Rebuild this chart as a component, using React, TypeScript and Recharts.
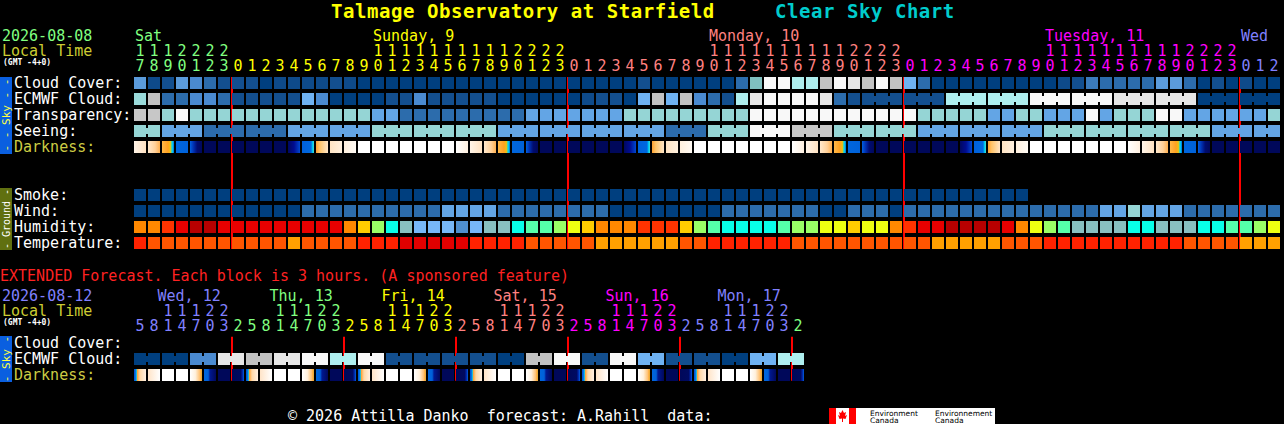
import { ScatterChart, Scatter, XAxis, YAxis, ReferenceLine, Customized } from 'recharts';

const FONT = '"DejaVu Sans Mono", "Liberation Mono", monospace';

// ---- labels ----
const TITLE = 'Talmage Observatory at Starfield';
const SUBTITLE = 'Clear Sky Chart';
const MAIN_DATE = '2026-08-08';
const EXT_DATE = '2026-08-12';
const TZ = '(GMT -4+0)';
const EXT_NOTE = 'EXTENDED Forecast. Each block is 3 hours. (A sponsored feature)';
const FOOTER = '\u00A9 2026 Attilla Danko  forecast: A.Rahill  data:';

const MAIN_ROWS = ['Cloud Cover:', 'ECMWF Cloud:', 'Transparency:', 'Seeing:', 'Darkness:', '', '', 'Smoke:', 'Wind:', 'Humidity:', 'Temperature:'];
const EXT_ROWS = ['Cloud Cover:', 'ECMWF Cloud:', 'Darkness:'];

const MAIN_DAY_NAMES = ['Sat', 'Sunday, 9', 'Monday, 10', 'Tuesday, 11', 'Wed'];
const EXT_DAY_NAMES = ['Wed, 12', 'Thu, 13', 'Fri, 14', 'Sat, 15', 'Sun, 16', 'Mon, 17', ''];

// ---- hours (local time) ----
const MAIN_HOURS = [
  17, 18, 19, 20, 21, 22, 23,
  0, 1, 2, 3, 4, 5, 6, 7, 8, 9, 10, 11, 12, 13, 14, 15, 16, 17, 18, 19, 20, 21, 22, 23,
  0, 1, 2, 3, 4, 5, 6, 7, 8, 9, 10, 11, 12, 13, 14, 15, 16, 17, 18, 19, 20, 21, 22, 23,
  0, 1, 2, 3, 4, 5, 6, 7, 8, 9, 10, 11, 12, 13, 14, 15, 16, 17, 18, 19, 20, 21, 22, 23,
  0, 1, 2,
];
const EXT_HOURS = [
  5, 8, 11, 14, 17, 20, 23,
  2, 5, 8, 11, 14, 17, 20, 23,
  2, 5, 8, 11, 14, 17, 20, 23,
  2, 5, 8, 11, 14, 17, 20, 23,
  2, 5, 8, 11, 14, 17, 20, 23,
  2, 5, 8, 11, 14, 17, 20, 23,
  2,
];

// ---- hourly forecast (palette indices) ----
const CLOUD_COVER = [
  6, 1, 2, 6, 5, 3, 2,
  2, 2, 0, 1, 1, 1, 1, 2, 1, 0, 0, 0, 0, 0, 0, 0, 0, 0, 0, 0, 0, 0, 0, 0,
  0, 0, 0, 0, 0, 2, 0, 0, 0, 0, 0, 0, 3, 8, 13, 13, 10, 10, 11, 13, 12, 11, 13, 11,
  7, 3, 0, 0, 0, 0, 0, 0, 0, 0, 0, 1, 2, 4, 3, 3, 3, 3, 6, 6, 3, 0, 2, 0,
  1, 0, 0,
];
const ECMWF_CLOUD = [
  9, 11, 3, 3, 5, 5, 3,
  2, 2, 2, 2, 2, 7, 5, 0, 0, 0, 0, 2, 2, 5, 2, 2, 2, 2, 2, 0, 0, 0, 0, 0,
  0, 1, 2, 2, 0, 7, 11, 7, 11, 5, 3, 2, 10, 12, 13, 13, 13, 13, 12, 3, 2, 2, 2, 2,
  2, 2, 2, 10, 10, 10, 10, 10, 10, 13, 13, 13, 13, 13, 13, 12, 12, 12, 12, 12, 12, 0, 0, 0,
  0, 0, 0,
];
const TRANSPARENCY = [
  4, 4, 3, 5, 3, 3, 3,
  3, 3, 3, 3, 3, 3, 3, 3, 3, 3, 2, 2, 1, 1, 1, 1, 1, 1, 1, 1, 1, 2, 2, 2,
  2, 2, 2, 2, 3, 3, 3, 3, 3, 3, 3, 3, 3, 5, 5, 5, 5, 5, 5, 5, 5, 5, 5, 5,
  5, 3, 3, 3, 3, 3, 2, 2, 3, 3, 2, 2, 2, 5, 2, 3, 3, 3, 5, 5, 2, 2, 2, 2,
  2, 2, 3,
];
const SEEING = [
  3, 3, 2, 2, 2, 1, 1,
  1, 1, 1, 1, 2, 2, 2, 2, 2, 2, 3, 3, 3, 3, 3, 3, 3, 3, 3, 2, 2, 2, 2, 2,
  2, 2, 2, 2, 2, 2, 2, 1, 1, 1, 3, 3, 3, 5, 5, 5, 4, 4, 4, 3, 3, 3, 3, 3,
  3, 2, 2, 2, 2, 2, 2, 2, 2, 2, 3, 3, 3, 3, 3, 3, 3, 3, 3, 3, 3, 3, 2, 2,
  2, 2, 2,
];
const DARKNESS = [
  'c', 'C', 'S', 'B', 'b', 'N', 'N',
  'N', 'N', 'N', 'N', 'n', 'R', 'O', 'm', 'l', 'W', 'W', 'W', 'W', 'W', 'W', 'W', 'a', 'c', 'C', 'S', 'B', 'b', 'N', 'N',
  'N', 'N', 'N', 'N', 'n', 'R', 'O', 'm', 'l', 'W', 'W', 'W', 'W', 'W', 'W', 'W', 'a', 'c', 'C', 'S', 'B', 'b', 'N', 'N',
  'N', 'N', 'N', 'N', 'n', 'R', 'O', 'm', 'l', 'W', 'W', 'W', 'W', 'W', 'W', 'W', 'a', 'c', 'C', 'S', 'B', 'b', 'N', 'N',
  'N', 'N', 'N',
];
const SMOKE = [
  0, 0, 0, 0, 0, 0, 0,
  0, 0, 0, 0, 0, 0, 0, 0, 0, 0, 0, 0, 0, 0, 0, 0, 0, 0, 0, 0, 0, 0, 0, 0,
  0, 0, 0, 0, 0, 0, 0, 0, 0, 0, 0, 0, 0, 0, 0, 0, 0, 0, 0, 0, 0, 0, 0, 0,
  0, 0, 0, 0, 0, 0, 0, 0, 0,
];
const WIND = [
  0, 0, 0, 0, 0, 0, 0,
  0, 0, 0, 0, 0, 1, 1, 1, 1, 1, 1, 1, 1, 1, 1, 2, 2, 2, 2, 1, 1, 1, 1, 1,
  1, 1, 1, 0, 0, 0, 0, 0, 0, 0, 0, 1, 1, 1, 1, 1, 1, 1, 0, 0, 1, 1, 1, 0,
  1, 1, 1, 1, 1, 1, 1, 1, 1, 1, 1, 1, 1, 1, 2, 2, 3, 2, 2, 2, 1, 1, 1, 1,
  1, 1, 1,
];
const HUMIDITY = [
  8, 8, 9, 10, 11, 11, 10,
  10, 10, 10, 10, 10, 10, 10, 10, 8, 7, 5, 3, 2, 1, 1, 1, 0, 1, 2, 2, 3, 4, 4, 5,
  6, 7, 8, 8, 8, 9, 9, 9, 7, 5, 4, 3, 3, 3, 3, 4, 5, 5, 6, 6, 7, 6, 6, 8,
  9, 10, 10, 11, 11, 11, 11, 10, 8, 6, 5, 4, 2, 2, 2, 2, 3, 3, 2, 2, 2, 3, 3, 4,
  4, 5, 6,
];
const TEMPERATURE = [
  2, 1, 1, 1, 1, 1, 1,
  1, 1, 1, 1, 0, 1, 1, 1, 1, 2, 2, 2, 3, 3, 3, 3, 3, 2, 2, 2, 2, 1, 1, 1,
  1, 1, 0, 0, 0, 0, 0, 0, 1, 1, 2, 2, 2, 2, 2, 2, 1, 1, 1, 1, 1, 1, 1, 1,
  1, 1, 0, 0, 0, 0, 0, 1, 1, 1, 2, 2, 2, 2, 2, 2, 2, 2, 2, 2, 1, 1, 1, 1,
  0, 0, 0,
];

// ---- extended (3 h blocks) ----
const EXT_ECMWF = [
  0, 0, 0, 0, 5, 5, 12, 12, 11, 11, 12, 12, 13, 13, 10, 10, 13, 13, 2, 2, 2, 2, 2, 2,
  2, 2, 0, 0, 11, 11, 13, 13, 2, 2, 13, 13, 7, 7, 2, 2, 2, 2, 0, 0, 7, 7, 10, 10,
];
const EXT_DARKNESS = [
  'X', 'M', 'W', 'W', 'E', 'F', 'N',
  'P', 'X', 'M', 'W', 'W', 'E', 'F', 'N',
  'P', 'X', 'M', 'W', 'W', 'E', 'F', 'N',
  'P', 'X', 'M', 'W', 'W', 'E', 'F', 'N',
  'P', 'X', 'M', 'W', 'W', 'E', 'F', 'N',
  'P', 'X', 'M', 'W', 'W', 'E', 'F', 'N',
  'P',
];

// ---- palettes ----
const CLOUD_COLORS = ['#003F7F', '#0E4A8A', '#134F8F', '#2C6CAC', '#3B7BBB', '#4A8AD0', '#5B9BDB', '#6FB2F2', '#80C0C0', '#9ADADA', '#AEEEEE', '#C2C2C2', '#E6E6E6', '#F8F8F8'];
const SKY_COLORS = ['#003F7F', '#2C6CAC', '#63A5E5', '#95D5D5', '#C7C7C7', '#F8F8F8'];
const HUMIDITY_COLORS = ['#4F8FCF', '#77B7F7', '#88C0C0', '#08FFE8', '#55FFAA', '#99FF66', '#EEFF11', '#FFCC00', '#FF8800', '#FF3300', '#E80000', '#B80000'];
const TEMP_COLORS = ['#FFA000', '#FF5500', '#FF2200', '#E00000'];
const DAY_COLORS = ['#80FF80', '#FFFF00', '#FF8080', '#FF00FF', '#8080FF'];

type Stops = [number, string][];
const DARK_STYLES: Record<string, Stops> = {
  W: [[0, '#FFFFFF'], [1, '#FFFFFF']],
  a: [[0, '#FFFFFF'], [1, '#FFF0E0']],
  c: [[0, '#FFF4E8'], [1, '#FFE2C2']],
  C: [[0, '#FFE8CC'], [0.6, '#FFD098'], [1, '#FFB050']],
  S: [[0, '#FFB848'], [0.5, '#FFA020'], [0.7, '#EEC010'], [0.8, '#40D0B0'], [0.88, '#00C8F0'], [1, '#0068E0']],
  B: [[0, '#0066DD'], [1, '#0062DA']],
  b: [[0, '#0060E0'], [0.3, '#0030B0'], [0.6, '#000C70'], [1, '#00085C']],
  N: [[0, '#00085A'], [1, '#00085A']],
  n: [[0, '#000860'], [0.5, '#000C90'], [1, '#0048D0']],
  R: [[0, '#0060DA'], [0.75, '#0068E0'], [0.88, '#00C8F0'], [1, '#40E0D0']],
  O: [[0, '#FFA030'], [0.3, '#FFC468'], [1, '#FFE6C8']],
  m: [[0, '#FFE4C4'], [1, '#FFF0DE']],
  l: [[0, '#FFF0DE'], [1, '#FFFAF4']],
  X: [[0, '#0050D0'], [0.12, '#0070E8'], [0.2, '#00C0F0'], [0.26, '#FFA030'], [0.5, '#FFD8A8'], [1, '#FFF0E2']],
  M: [[0, '#FFE4C8'], [1, '#FFFFFF']],
  E: [[0, '#FFFFFF'], [0.45, '#FFF0DC'], [0.82, '#FFC070'], [0.92, '#FFA830'], [1, '#D8B040']],
  F: [[0, '#0066DD'], [0.35, '#0060D8'], [0.5, '#001890'], [1, '#00085C']],
  P: [[0, '#00085A'], [0.72, '#000A60'], [0.85, '#0020A0'], [1, '#0060E0']],
};

// ---- helpers ----
function dayIndex(hours: number[]) {
  let d = 0;
  return hours.map((h, i) => {
    if (i > 0 && h < hours[i - 1]) d += 1;
    return d;
  });
}

function labelColumns(hours: number[], days: number[], labelHour: number) {
  const cols: Record<number, number> = {};
  hours.forEach((h, i) => {
    const d = days[i];
    if (cols[d] === undefined) cols[d] = i;
    if (h === labelHour) cols[d] = i;
  });
  return cols;
}

function midnights(hours: number[]) {
  return hours.map((h, i) => (i > 0 && h < hours[i - 1] ? i : -1)).filter((i) => i >= 0);
}

function blocks(values: number[], row: number, palette: string[], link?: (i: number) => boolean) {
  return values.map((v, i) => ({
    col: i + 0.5,
    row: row + 0.5,
    fill: palette[v],
    link: link ? i < values.length - 1 && link(i) : false,
  }));
}

function darkBlocks(codes: string[], row: number, id: string) {
  return codes.map((c, i) => ({ col: i + 0.5, row: row + 0.5, grad: DARK_STYLES[c], gid: `${id}-${i}` }));
}

function Block(props: any) {
  const { cx, cy, payload } = props;
  if (cx == null || cy == null || !payload) return <g />;
  const x = cx - 7;
  const y = cy - 7;
  if (payload.grad) {
    return (
      <g>
        <defs>
          <linearGradient id={payload.gid} x1="0" y1="0" x2="1" y2="0">
            {payload.grad.map(([o, c]: [number, string], k: number) => (
              <stop key={k} offset={o} stopColor={c} />
            ))}
          </linearGradient>
        </defs>
        <rect x={x} y={y} width={12} height={12} fill={`url(#${payload.gid})`} />
      </g>
    );
  }
  return (
    <g>
      <rect x={x} y={y} width={12} height={12} fill={payload.fill} />
      {payload.link && <rect x={x + 11} y={y + 3} width={4} height={6} fill={payload.fill} />}
    </g>
  );
}

function HourTick(props: any) {
  const { x, payload, hours, days, labels, names, colorOffset, base, labelDx } = props;
  const i = Math.floor(payload.value);
  const h = hours[i];
  const d = days[i];
  const fill = DAY_COLORS[(d + colorOffset) % DAY_COLORS.length];
  return (
    <g fontFamily={FONT} fontSize={15} fill={fill}>
      {labels[d] === i && names[d] ? (
        <text x={x + labelDx} y={base[0]} fill={fill}>{names[d]}</text>
      ) : null}
      {h >= 10 ? (
        <text x={x - 1} y={base[1]} textAnchor="middle" fill={fill}>{Math.floor(h / 10)}</text>
      ) : null}
      <text x={x - 1} y={base[2]} textAnchor="middle" fill={fill}>{h % 10}</text>
    </g>
  );
}

function RowTick(props: any) {
  const { y, payload, rows } = props;
  const label = rows[Math.floor(payload.value)];
  return (
    <text x={14} y={y + 4} fontFamily={FONT} fontSize={15} fill={label === 'Darkness:' ? '#CCCC44' : '#FFFFFF'}>
      {label}
    </text>
  );
}

function MainTexts() {
  return (
    <g fontFamily={FONT}>
      <text x={331} y={17.7} fontSize={19} letterSpacing={0.55} fontWeight="bold" fill="#FFFF00" fontFamily={FONT}>{TITLE}</text>
      <text x={775} y={17.7} fontSize={19} letterSpacing={0.55} fontWeight="bold" fill="#00CCCC" fontFamily={FONT}>{SUBTITLE}</text>
      <text x={2} y={41} fontSize={15} fill={DAY_COLORS[0]} fontFamily={FONT}>{MAIN_DATE}</text>
      <text x={2} y={56} fontSize={15} fill="#CCCC33" fontFamily={FONT}>Local Time</text>
      <text x={3} y={65} fontSize={8} fontWeight="bold" fill="#FFFFFF" fontFamily={FONT}>{TZ}</text>
      <rect x={0} y={77} width={12} height={77} fill="#0A5FE0" />
      <text transform="translate(9.5,115) rotate(-90)" textAnchor="middle" fontSize={11} fill="#FFFF44" fontFamily={FONT}>- - Sky - -</text>
      <rect x={0} y={188} width={12} height={62} fill="#607010" />
      <text transform="translate(9.5,219) rotate(-90)" textAnchor="middle" fontSize={10} fill="#FFFFFF" fontFamily={FONT}>- Ground -</text>
    </g>
  );
}

function ExtTexts() {
  return (
    <g fontFamily={FONT}>
      <text x={0} y={19} fontSize={15} fill="#FF2222" fontFamily={FONT}>{EXT_NOTE}</text>
      <text x={2} y={39} fontSize={15} fill={DAY_COLORS[4]} fontFamily={FONT}>{EXT_DATE}</text>
      <text x={2} y={54} fontSize={15} fill="#CCCC33" fontFamily={FONT}>Local Time</text>
      <text x={3} y={63} fontSize={8} fontWeight="bold" fill="#FFFFFF" fontFamily={FONT}>{TZ}</text>
      <rect x={0} y={74} width={12} height={46} fill="#0A5FE0" />
      <text transform="translate(9.5,97) rotate(-90)" textAnchor="middle" fontSize={11} fill="#FFFF44" fontFamily={FONT}>- Sky -</text>
      <text x={288} y={159} fontSize={15} fill="#FFFFFF" fontFamily={FONT} style={{ whiteSpace: 'pre' }}>{FOOTER}</text>
      <rect x={829} y={146} width={166} height={16} fill="#FFFFFF" />
      <rect x={829} y={146} width={7} height={16} fill="#FF0000" />
      <rect x={849} y={146} width={7} height={16} fill="#FF0000" />
      <path d="M842.5,148 L844,151 L846,150 L845,154 L847,153 L845.5,157 L843,156.5 L843,160 L842,160 L842,156.5 L839.5,157 L838,153 L840,154 L839,150 L841,151 Z" fill="#FF0000" />
      <g fontFamily='"DejaVu Sans", sans-serif' fontSize={7.5} fill="#000000">
        <text x={870} y={153.5}>Environment</text>
        <text x={870} y={161}>Canada</text>
        <text x={935} y={153.5}>Environnement</text>
        <text x={935} y={161}>Canada</text>
      </g>
    </g>
  );
}

// ---- derived tables for the charts ----
const MAIN_DAYS = dayIndex(MAIN_HOURS);
const EXT_DAYS = dayIndex(EXT_HOURS);
const MAIN_LABELS = labelColumns(MAIN_HOURS, MAIN_DAYS, 10);
const EXT_LABELS = labelColumns(EXT_HOURS, EXT_DAYS, 11);
const MAIN_TICKS = MAIN_HOURS.map((_, i) => i + 0.5);
const EXT_TICKS = EXT_HOURS.map((_, i) => i + 0.5);
const MAIN_ROW_TICKS = MAIN_ROWS.map((r, i) => (r ? i + 0.5 : -1)).filter((v) => v >= 0);
const EXT_ROW_TICKS = EXT_ROWS.map((_, i) => i + 0.5);

const seeingLink = (i: number) => (i + 1) % 3 !== 2;
const ecmwfLink = (i: number) => i >= 52 && (i + 1 - 52) % 3 !== 0;
const extLink = (i: number) => i % 2 === 0;

const MAIN_SERIES = [
  blocks(CLOUD_COVER, 0, CLOUD_COLORS),
  blocks(ECMWF_CLOUD, 1, CLOUD_COLORS, ecmwfLink),
  blocks(TRANSPARENCY, 2, SKY_COLORS),
  blocks(SEEING, 3, SKY_COLORS, seeingLink),
  darkBlocks(DARKNESS, 4, 'dk'),
  blocks(SMOKE, 7, SKY_COLORS),
  blocks(WIND, 8, SKY_COLORS),
  blocks(HUMIDITY, 9, HUMIDITY_COLORS),
  blocks(TEMPERATURE, 10, TEMP_COLORS),
];
const EXT_SERIES = [blocks(EXT_ECMWF, 1, CLOUD_COLORS, extLink), darkBlocks(EXT_DARKNESS, 2, 'xdk')];

export default function App() {
  return (
    <div style={{ width: 1284, height: 424, background: '#000000', overflow: 'hidden' }}>
      <style>{'body{margin:0;background:#000;}'}</style>
      <ScatterChart width={1284} height={262} margin={{ top: 0, right: 2, bottom: 10, left: 0 }}>
        <XAxis
          type="number"
          dataKey="col"
          domain={[0, MAIN_HOURS.length]}
          orientation="top"
          height={76}
          ticks={MAIN_TICKS}
          interval={0}
          axisLine={false}
          tickLine={false}
          tick={(p: any) => (
            <HourTick {...p} hours={MAIN_HOURS} days={MAIN_DAYS} labels={MAIN_LABELS} names={MAIN_DAY_NAMES} colorOffset={0} base={[41, 56, 71]} labelDx={-6} />
          )}
        />
        <YAxis
          type="number"
          dataKey="row"
          domain={[0, MAIN_ROWS.length]}
          reversed
          width={134}
          ticks={MAIN_ROW_TICKS}
          interval={0}
          axisLine={false}
          tickLine={false}
          tick={(p: any) => <RowTick {...p} rows={MAIN_ROWS} />}
        />
        <Customized component={MainTexts} />
        {MAIN_SERIES.map((data, k) => (
          <Scatter key={k} data={data} shape={Block} isAnimationActive={false} />
        ))}
        {midnights(MAIN_HOURS).map((c) => (
          <ReferenceLine
            key={c}
            segment={[{ x: c, y: 0.06 }, { x: c, y: 10.81 }]}
            stroke="#FF0000"
            strokeWidth={2}
          />
        ))}
      </ScatterChart>
      <ScatterChart width={1284} height={162} margin={{ top: 0, right: 2, bottom: 40, left: 0 }}>
        <XAxis
          type="number"
          dataKey="col"
          domain={[0, MAIN_HOURS.length]}
          orientation="top"
          height={74}
          ticks={EXT_TICKS}
          interval={0}
          axisLine={false}
          tickLine={false}
          tick={(p: any) => (
            <HourTick {...p} hours={EXT_HOURS} days={EXT_DAYS} labels={EXT_LABELS} names={EXT_DAY_NAMES} colorOffset={4} base={[39, 54, 69]} labelDx={-11.5} />
          )}
        />
        <YAxis
          type="number"
          dataKey="row"
          domain={[0, EXT_ROWS.length]}
          reversed
          width={134}
          ticks={EXT_ROW_TICKS}
          interval={0}
          axisLine={false}
          tickLine={false}
          tick={(p: any) => <RowTick {...p} rows={EXT_ROWS} />}
        />
        <Customized component={ExtTexts} />
        {EXT_SERIES.map((data, k) => (
          <Scatter key={k} data={data} shape={Block} isAnimationActive={false} />
        ))}
        {midnights(EXT_HOURS).map((c) => (
          <ReferenceLine
            key={c}
            segment={[{ x: c, y: 0.05 }, { x: c, y: 2.8 }]}
            stroke="#FF0000"
            strokeWidth={2}
          />
        ))}
      </ScatterChart>
    </div>
  );
}
